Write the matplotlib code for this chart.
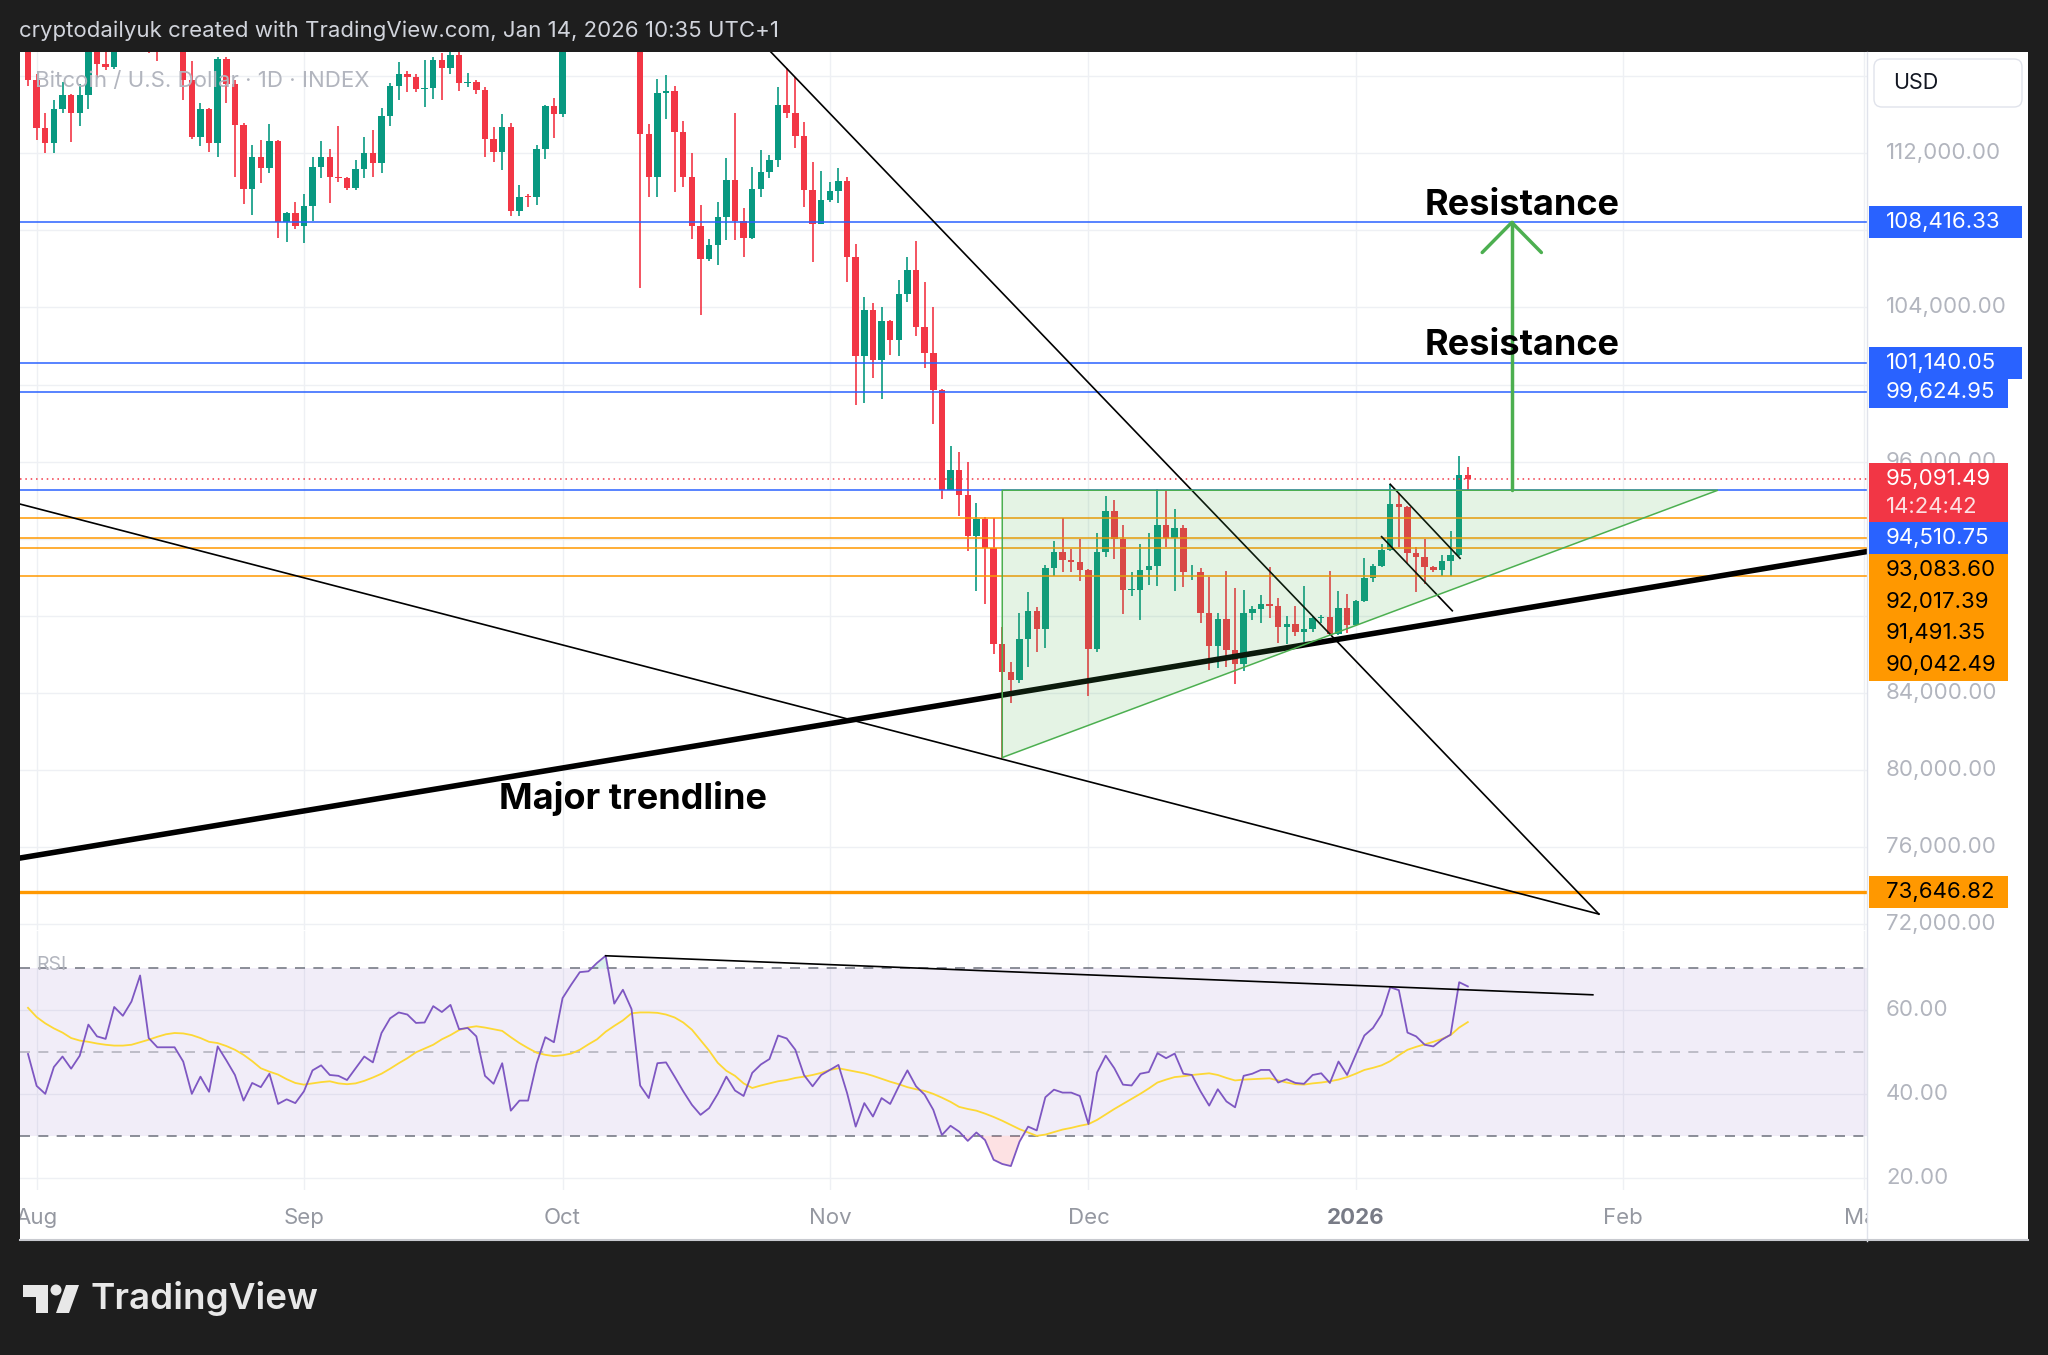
import numpy as np
import pandas as pd
import matplotlib
matplotlib.use("Agg")
import matplotlib.pyplot as plt
import matplotlib.dates as mdates
from matplotlib.colors import to_rgba
from matplotlib.lines import Line2D
from matplotlib.patches import Rectangle, FancyBboxPatch, Polygon, Circle
from matplotlib.transforms import IdentityTransform

plt.rcParams['font.family'] = ['Inter', 'DejaVu Sans']

# Daily BTC/USD candles from 2025-07-31 to 2026-01-14, thousand USD
start_date = "2025-07-31"
opens = [117.8,
    115.8, 113.3, 112.56, 114.3, 115.05, 114.1, 115.05, 117.5, 116.65, 116.47, 119.3, 118.7, 120.2, 123.3, 118.4, 117.4,
    117.5, 117.4, 115.8, 112.85, 114.33, 112.53, 116.88, 115.62, 113.47, 110.17, 111.83, 111.26, 112.65, 108.46, 108.89,
    108.23, 109.29, 111.28, 111.8, 110.76, 110.7, 110.22, 111.18, 112.04, 111.52, 113.94, 115.52, 116.11, 115.99, 115.35,
    115.4, 116.83, 116.46, 117.1, 115.68, 115.72, 115.27, 112.73, 112.09, 113.36, 109.03, 109.75, 109.72, 112.23, 114.46,
    114.03, 118.6, 120.5, 122.2, 122.4, 123.5, 124.7, 121.4, 123.3, 121.7, 112.99, 110.79, 115.12, 115.26, 113.09, 110.79,
    108.23, 106.5, 107.24, 108.71, 110.62, 108.49, 107.59, 110.13, 111.05, 111.66, 114.52, 114.09, 112.9, 110.09, 108.36,
    109.6, 110.07, 110.57, 106.61, 101.46, 103.86, 101.28, 103.28, 102.29, 104.69, 105.97, 102.99, 101.65, 99.69, 94.54,
    95.56, 94.27, 92.14, 93.0, 91.53, 86.53, 85.05, 84.67, 86.78, 88.26, 87.3, 90.47, 91.28, 90.89, 90.8,
    90.37, 86.24, 91.28, 93.45, 92.0, 89.32, 89.33, 90.37, 90.6, 92.68, 92.04, 92.54, 90.24, 90.28, 88.12, 86.42,
    87.81, 86.21, 85.5, 88.12, 88.32, 88.6, 88.5, 87.39, 87.56, 87.16, 87.3, 87.86, 87.95, 87.04, 88.41,
    87.51, 88.75, 89.93, 90.57, 91.4, 93.79, 93.65, 91.23, 91.03, 90.51, 90.37, 90.85, 91.15, 95.3]
highs = [118.9,
    116.1, 114.1, 114.8, 115.7, 115.1, 115.6, 117.7, 118.0, 117.9, 119.3, 122.3, 120.3, 123.7, 124.4, 119.2, 117.9,
    118.6, 117.6, 116.8, 114.6, 114.35, 117.0, 117.0, 115.8, 113.6, 112.44, 112.7, 113.53, 112.7, 108.94, 109.5,
    109.89, 111.8, 112.65, 112.21, 113.42, 110.79, 111.66, 112.87, 113.22, 114.34, 115.64, 116.73, 116.3, 116.1, 116.85,
    117.0, 117.2, 117.4, 117.3, 116.19, 115.8, 115.47, 113.36, 114.05, 113.56, 110.36, 109.89, 112.44, 114.52, 114.86,
    118.6, 121.0, 123.9, 122.9, 125.7, 126.2, 125.1, 124.1, 123.7, 122.5, 113.53, 115.85, 116.07, 115.52, 113.7, 112.04,
    109.32, 107.54, 109.49, 111.75, 114.12, 109.15, 111.31, 112.18, 111.92, 115.47, 116.42, 115.98, 113.65, 111.57, 111.1,
    110.52, 111.23, 110.76, 107.28, 104.53, 104.21, 104.02, 103.34, 105.45, 106.61, 107.47, 105.3, 104.0, 99.79, 96.81,
    96.52, 96.0, 93.83, 93.1, 93.06, 87.4, 85.57, 88.12, 89.22, 88.44, 90.62, 91.85, 93.06, 91.47, 91.97,
    90.4, 92.29, 94.22, 94.02, 92.68, 90.28, 91.72, 92.29, 94.6, 94.5, 93.54, 92.68, 90.63, 90.46, 90.02, 88.12,
    90.33, 89.42, 89.33, 88.5, 89.07, 90.51, 88.9, 87.98, 88.5, 89.52, 87.98, 88.03, 90.33, 89.29, 89.11,
    88.81, 90.98, 90.68, 91.72, 94.82, 94.35, 93.7, 91.58, 91.96, 90.58, 91.15, 92.39, 96.29, 95.7]
lows = [115.5,
    112.7, 112.0, 112.0, 114.1, 112.6, 113.4, 114.3, 115.95, 116.35, 116.4, 118.1, 118.2, 118.9, 117.2, 116.8, 117.3,
    117.3, 114.8, 112.75, 112.4, 112.1, 111.8, 114.6, 110.8, 109.37, 108.8, 110.45, 110.97, 107.59, 107.42, 108.1,
    107.33, 108.51, 110.71, 109.44, 110.53, 110.1, 110.1, 110.71, 110.79, 111.0, 113.42, 114.78, 115.21, 115.2, 114.4,
    114.85, 114.76, 116.15, 115.24, 115.43, 115.1, 111.83, 111.57, 111.14, 108.75, 108.75, 109.23, 109.32, 111.69, 112.79,
    113.9, 118.4, 119.3, 121.7, 122.2, 123.1, 120.6, 121.1, 119.7, 105.0, 109.75, 109.75, 113.79, 110.01, 110.27, 107.54,
    103.61, 106.43, 106.2, 107.49, 107.49, 106.6, 107.54, 109.75, 110.74, 111.31, 113.82, 112.27, 109.23, 106.38, 108.34,
    109.48, 109.41, 105.34, 98.96, 99.02, 100.32, 99.24, 101.52, 101.46, 104.3, 102.51, 100.84, 97.96, 94.08, 94.5,
    93.15, 91.33, 89.27, 88.6, 86.01, 80.63, 83.45, 84.5, 85.32, 86.09, 86.34, 90.08, 90.28, 90.28, 89.8,
    83.84, 86.1, 91.04, 90.95, 88.07, 89.03, 87.78, 89.6, 89.55, 91.58, 89.27, 89.5, 89.85, 87.6, 85.18, 85.26,
    85.31, 84.44, 85.14, 87.77, 87.63, 87.86, 86.59, 86.53, 86.94, 86.64, 87.16, 87.63, 86.99, 86.99, 87.11,
    87.46, 88.72, 89.76, 90.54, 91.35, 91.55, 90.72, 89.24, 89.64, 90.28, 90.06, 90.06, 91.11, 94.52]
closes = [115.8,
    113.3, 112.56, 114.3, 115.05, 114.1, 115.05, 117.5, 116.65, 116.47, 119.3, 118.7, 120.2, 123.3, 118.4, 117.4, 117.5,
    117.4, 115.8, 112.85, 114.33, 112.53, 116.88, 115.62, 113.47, 110.17, 111.83, 111.26, 112.65, 108.46, 108.89, 108.23,
    109.29, 111.28, 111.8, 110.76, 110.7, 110.22, 111.18, 112.04, 111.52, 113.94, 115.52, 116.11, 115.99, 115.35, 115.4,
    116.83, 116.46, 117.1, 115.68, 115.72, 115.27, 112.73, 112.09, 113.36, 109.03, 109.75, 109.72, 112.23, 114.46, 114.03,
    118.6, 120.5, 122.2, 122.4, 123.5, 124.7, 121.4, 123.3, 121.7, 112.99, 110.79, 115.12, 115.26, 113.09, 110.79, 108.23,
    106.5, 107.24, 108.71, 110.62, 108.49, 107.59, 110.13, 111.05, 111.66, 114.52, 114.09, 112.9, 110.09, 108.36, 109.6,
    110.07, 110.57, 106.61, 101.46, 103.86, 101.28, 103.28, 102.29, 104.69, 105.97, 102.99, 101.65, 99.69, 94.54, 95.56,
    94.27, 92.14, 93.0, 91.53, 86.53, 85.05, 84.67, 86.78, 88.26, 87.3, 90.47, 91.28, 90.89, 90.8, 90.37,
    86.24, 91.28, 93.45, 92.0, 89.32, 89.33, 90.37, 90.6, 92.68, 92.04, 92.54, 90.24, 90.28, 88.12, 86.42, 87.81,
    86.21, 85.5, 88.12, 88.32, 88.6, 88.5, 87.39, 87.56, 87.16, 87.3, 87.86, 87.95, 87.04, 88.41, 87.51,
    88.75, 89.93, 90.57, 91.4, 93.79, 93.65, 91.23, 91.03, 90.51, 90.37, 90.85, 91.15, 95.3, 95.09]

# RSI(14) and its moving average, same days
rsi = [49.5,
    41.9, 40.0, 46.4, 48.9, 46.0, 49.1, 56.5, 53.7, 53.1, 60.7, 58.6, 62.0, 68.2, 53.3, 51.1, 51.1,
    51.1, 47.7, 40.0, 44.1, 40.5, 51.3, 48.0, 44.5, 38.4, 42.6, 41.6, 44.8, 37.6, 38.7, 37.8,
    40.6, 45.6, 46.8, 44.5, 44.3, 43.3, 46.1, 48.9, 47.5, 54.5, 58.0, 59.4, 58.9, 56.9, 57.0,
    60.9, 59.5, 61.2, 55.4, 55.7, 53.7, 44.3, 42.4, 47.3, 36.0, 38.4, 38.4, 47.3, 53.5, 52.3,
    62.8, 66.0, 69.0, 69.2, 71.2, 72.9, 61.5, 64.8, 60.2, 42.0, 39.0, 47.3, 47.5, 44.1, 40.6, 37.4,
    35.0, 36.6, 40.0, 44.1, 40.8, 39.5, 45.0, 47.0, 48.3, 53.9, 53.2, 50.5, 44.5, 41.8, 44.5,
    45.7, 46.9, 40.2, 32.2, 37.8, 34.6, 39.0, 37.6, 41.8, 45.6, 41.8, 39.8, 36.2, 30.2, 32.4,
    31.0, 28.8, 30.8, 29.0, 24.3, 23.3, 22.8, 28.6, 32.2, 31.3, 39.2, 41.0, 40.3, 40.3, 39.5,
    32.8, 45.1, 49.1, 46.1, 42.2, 42.0, 44.8, 45.2, 49.7, 48.5, 49.6, 44.8, 44.5, 40.6, 37.2, 41.1,
    38.2, 36.8, 44.3, 44.8, 45.7, 45.7, 42.7, 43.5, 42.6, 42.4, 44.5, 44.9, 42.6, 47.7, 44.5,
    49.3, 53.9, 55.7, 58.9, 65.4, 64.7, 54.6, 53.7, 51.7, 51.3, 52.9, 54.1, 66.6, 65.6]
rsi_ma = [60.5,
    58.3, 56.8, 55.6, 54.6, 53.3, 52.7, 52.4, 52.0, 51.7, 51.5, 51.5, 51.7, 52.3, 52.9, 53.6, 54.2,
    54.5, 54.4, 54.0, 53.3, 52.4, 52.1, 51.4, 50.5, 49.3, 47.8, 46.1, 45.3, 44.6, 43.5, 42.6,
    42.2, 42.5, 42.8, 43.0, 42.5, 42.3, 42.5, 43.1, 43.9, 44.8, 46.0, 47.3, 48.5, 49.9, 50.8,
    51.7, 53.0, 54.0, 55.2, 55.8, 56.1, 55.8, 55.4, 55.0, 53.5, 52.1, 50.9, 49.8, 49.3, 49.0,
    49.2, 49.6, 50.5, 51.8, 53.0, 54.8, 56.2, 57.5, 59.2, 59.4, 59.4, 59.3, 58.9, 58.2, 57.0, 55.3,
    52.8, 50.3, 47.4, 45.5, 44.3, 42.5, 41.4, 42.0, 42.5, 43.0, 43.3, 43.8, 44.1, 44.5, 45.0,
    45.7, 46.1, 45.7, 45.3, 44.9, 44.3, 43.6, 42.9, 42.3, 41.6, 41.1, 40.7, 40.0, 39.1, 38.1,
    36.9, 36.4, 36.0, 35.3, 34.5, 33.6, 32.6, 31.6, 30.8, 30.0, 30.3, 30.9, 31.5, 31.9, 32.4,
    32.8, 33.8, 35.1, 36.4, 37.6, 38.8, 40.0, 41.3, 42.7, 43.4, 44.0, 44.2, 44.5, 44.7, 44.9, 44.5,
    43.8, 43.2, 43.4, 43.5, 43.6, 43.7, 43.2, 42.7, 42.3, 42.2, 42.5, 42.7, 43.0, 43.4, 44.0,
    44.8, 45.7, 46.2, 46.8, 47.8, 49.2, 50.5, 51.2, 51.8, 52.4, 53.1, 54.0, 55.8, 57.1]

resistance = [108416.33, 101140.05, 99624.95]
support_blue = 94510.75
orange_levels = [93083.60, 92017.39, 91491.35, 90042.49]
deep_support = 73646.82
last_price = 95091.49
countdown = "14:24:42"
price_ticks = np.arange(72000, 116001, 4000)
rsi_ticks = [20, 40, 60]
month_labels = ["Aug", "Sep", "Oct", "Nov", "Dec", "2026", "Feb", "Mar"]

GREEN, RED, BLUE, ORANGE = '#089981', '#f23645', '#2962ff', '#ff9800'
GRID = '#eef0f4'
AXIS_TXT = '#b2b5be'

W, H = 2048, 1355
PX = IdentityTransform()


def top(y):
    # pixel row counted from the top edge -> from the bottom edge
    return H - y


fig = plt.figure(figsize=(W / 100, H / 100), dpi=100)
fig.patch.set_facecolor('#1e1e1e')
fig.add_artist(Rectangle((20, top(1241)), 2008, 1189, transform=PX,
                         fc='white', ec='none', zorder=-2))

ax = fig.add_axes([20 / W, top(930) / H, 1847 / W, 878 / H])
ax_rsi = fig.add_axes([20 / W, top(1190) / H, 1847 / W, 259 / H])
ax_time = fig.add_axes([20 / W, top(1241) / H, 1847 / W, 51 / H])
for a in (ax, ax_rsi, ax_time):
    a.set_facecolor('none')
    for s in a.spines.values():
        s.set_visible(False)
    a.set_xticks([])
    a.set_yticks([])

dates = pd.date_range(start_date, periods=len(closes), freq='D')
x = mdates.date2num(dates)
aug1 = mdates.date2num(pd.Timestamp('2025-08-01'))
xmin, xmax = aug1 - 1.93, aug1 + 212.3
months = mdates.date2num(pd.date_range('2025-08-01', '2026-03-01', freq='MS'))


def day(n):
    return aug1 + n


def on(s):
    return mdates.date2num(pd.Timestamp(s))


for a in (ax, ax_rsi, ax_time):
    a.set_xlim(xmin, xmax)
ax.set_ylim(71673, 117268)
ax_rsi.set_ylim(17.1, 78.8)
ax_time.set_ylim(0, 1)

# grid
for m in months:
    ax.axvline(m, color=GRID, lw=1, zorder=0)
    ax_rsi.axvline(m, color=GRID, lw=1, zorder=0)
for p in price_ticks:
    ax.axhline(p, color=GRID, lw=1, zorder=0)
for r in rsi_ticks:
    ax_rsi.axhline(r, color=GRID, lw=1, zorder=0)

# candles
o, hi, lo, c = (np.array(v) * 1000 for v in (opens, highs, lows, closes))
colors = np.where(c >= o, GREEN, RED)
ax.vlines(x, lo, hi, colors=colors, lw=1.2, zorder=2)
ax.bar(x, np.maximum(np.abs(c - o), 50), bottom=np.minimum(o, c), width=0.75,
       color=colors, lw=0, zorder=2)

# horizontal levels
for lvl in resistance + [support_blue]:
    ax.axhline(lvl, color=BLUE, lw=1.1, zorder=4)
for lvl in orange_levels:
    ax.axhline(lvl, color=ORANGE, lw=1.1, zorder=4)
ax.axhline(deep_support, color=ORANGE, lw=2.4, zorder=4)
ax.axhline(last_price, color=RED, lw=1.1, ls=(0, (1, 2.5)), zorder=4)

# trend drawings
apex = (day(181.2), 72500)
ax.plot([on('2025-10-06'), apex[0]], [126200, apex[1]], color='black', lw=1.2, zorder=5)
ax.plot([day(-2), apex[0]], [93800, apex[1]], color='black', lw=1.2, zorder=5)
ax.axline((day(-2), 75405), (day(212), 91305), color='black', lw=4, zorder=5)
ax.plot([day(157.0), day(165.1)], [94820, 90975], color='black', lw=1.2, zorder=5)
ax.plot([day(156.0), day(164.2)], [92100, 88250], color='black', lw=1.2, zorder=5)

# ascending triangle
tri_left = on('2025-11-21')
tri_low = lo[dates == pd.Timestamp('2025-11-21')][0]
tri = Polygon([(tri_left, support_blue), (day(195.0), support_blue), (tri_left, tri_low)],
              closed=True, fc=to_rgba('#4caf50', 0.15), ec='#4caf50', lw=1.1, zorder=6)
ax.add_patch(tri)

# target arrow
arr_x = day(171.1)
ax.plot([arr_x, arr_x], [support_blue, resistance[0]], color='#4caf50', lw=2.5,
        solid_capstyle='round', zorder=6)
ax.plot([arr_x - 3.43, arr_x, arr_x + 3.43],
        [resistance[0] - 1560, resistance[0], resistance[0] - 1560],
        color='#4caf50', lw=2.5, solid_capstyle='round', zorder=6)

lab_kw = dict(color='black', fontsize=26, fontweight='bold', ha='center', va='baseline', zorder=7)
ax.text(day(172.3), resistance[0] + 380, 'Resistance', **lab_kw)
ax.text(day(172.3), resistance[1] + 390, 'Resistance', **lab_kw)
ax.text(day(69.2), 77980, 'Major trendline', **lab_kw)

# RSI pane
rv = np.array(rsi)
ax_rsi.axhspan(30, 70, color='#7e57c2', alpha=0.1, lw=0, zorder=0)
for lvl, al in ((70, 1.0), (50, 0.5), (30, 1.0)):
    ax_rsi.axhline(lvl, color='#787b86', alpha=al, lw=1.2, ls=(0, (6, 5)), zorder=1)
ax_rsi.fill_between(x, rv, 30, where=rv < 30, interpolate=True, color=RED, alpha=0.15, lw=0, zorder=2)
ax_rsi.fill_between(x, rv, 70, where=rv > 70, interpolate=True, color=GREEN, alpha=0.15, lw=0, zorder=2)
ax_rsi.plot(x, rsi_ma, color='#fdd835', lw=1.3, zorder=3)
ax_rsi.plot(x, rv, color='#7e57c2', lw=1.3, zorder=3)
oct6 = on('2025-10-06')
ax_rsi.plot([oct6, day(180.5)], [rv[x == oct6][0], 63.6], color='black', lw=1.2, zorder=4)
ax_rsi.text(0.009, 0.87, 'RSI', transform=ax_rsi.transAxes, color=AXIS_TXT, fontsize=14,
            va='center', ha='left', zorder=5)

# time scale
for m, lab in zip(months, month_labels):
    bold = lab == '2026'
    ax_time.text(m, 0.45, lab, ha='center', va='center', fontsize=16,
                 color='#787b86' if bold else '#9598a1',
                 fontweight='bold' if bold else 'normal', clip_on=True)


def price_px(p):
    return ax.transData.transform((xmin, p))[1]


# price tags on the right scale, stacked like TradingView does
covered = [(top(107), top(58))]  # currency box


def tag(y_top, height, text, bg, fg, sub=None):
    w = 153 if float(text.replace(',', '')) >= 100000 else 139
    fig.add_artist(Rectangle((1869, y_top - height), w, height, transform=PX,
                             fc=bg, ec='none', zorder=5))
    covered.append((y_top - height, y_top))
    if sub is None:
        fig.text(1886, y_top - height / 2, text, transform=PX, color=fg, fontsize=16,
                 va='center', zorder=6)
    else:
        fig.text(1886, y_top - 16, text, transform=PX, color=fg, fontsize=16, va='center', zorder=6)
        fig.text(1886, y_top - 44, sub, transform=PX, color=fg, alpha=0.85, fontsize=16,
                 va='center', zorder=6)


for lvl in resistance:
    tag(price_px(lvl) + 16, 32, f'{lvl:,.2f}', BLUE, 'white')
tag(price_px(deep_support) + 16, 32, f'{deep_support:,.2f}', ORANGE, 'black')
y_cur = price_px(last_price) + 16
tag(y_cur, 59, f'{last_price:,.2f}', RED, 'white', sub=countdown)
y_cur -= 59
tag(y_cur, 32, f'{support_blue:,.2f}', BLUE, 'white')
y_cur -= 32
for lvl in orange_levels:
    tag(y_cur, 31.75, f'{lvl:,.2f}', ORANGE, 'black')
    y_cur -= 31.75

# price / rsi scale labels (those hidden under a tag are skipped)
for p in price_ticks:
    yb = price_px(p)
    if any(lo_ <= yb <= hi_ for lo_, hi_ in covered):
        continue
    fig.text(1886, yb, f'{p:,.2f}', transform=PX, color=AXIS_TXT, fontsize=16, va='center', zorder=3)
for r in rsi_ticks:
    yb = ax_rsi.transData.transform((xmin, r))[1]
    fig.text(1886, yb, f'{r:.2f}', transform=PX, color=AXIS_TXT, fontsize=16, va='center', zorder=3)

# currency box
fig.add_artist(FancyBboxPatch((1874, top(107)), 148, 48, boxstyle='round,pad=0,rounding_size=8',
                              transform=PX, fc='white', ec='#e0e3eb', lw=1, zorder=5))
fig.text(1893, top(83), 'USD', transform=PX, color='#131722', fontsize=15.5, va='center', zorder=6)

# separators
fig.add_artist(Line2D([1867, 1867], [top(1241), top(52)], transform=PX, color='#e0e3eb', lw=1, zorder=4))
fig.add_artist(Line2D([20, 2028], [top(1240), top(1240)], transform=PX, color='#c8cad0', lw=1.5, zorder=4))

# legend line of the symbol
fig.text(35, top(81), 'Bitcoin / U.S. Dollar · 1D · INDEX', transform=PX, color=AXIS_TXT,
         fontsize=16, va='center', zorder=5)

# header and footer
fig.text(19, top(31), 'cryptodailyuk created with TradingView.com, Jan 14, 2026 10:35 UTC+1',
         transform=PX, color='#d1d4dc', fontsize=16, va='center')
logo = '#e8e8e8'
fig.add_artist(Polygon([(23, top(1285)), (48, top(1285)), (48, top(1313)), (36, top(1313)),
                        (36, top(1297)), (23, top(1297))], closed=True, transform=PX, fc=logo, ec='none'))
fig.add_artist(Circle((56, top(1290)), 5.5, transform=PX, fc=logo, ec='none'))
fig.add_artist(Polygon([(66, top(1285)), (79, top(1285)), (69, top(1313)), (56, top(1313))],
                       closed=True, transform=PX, fc=logo, ec='none'))
fig.text(91, top(1299), 'TradingView', transform=PX, color=logo, fontsize=26.5,
         fontweight='semibold', va='center')

fig.savefig('out.png', dpi=100, facecolor=fig.get_facecolor())
